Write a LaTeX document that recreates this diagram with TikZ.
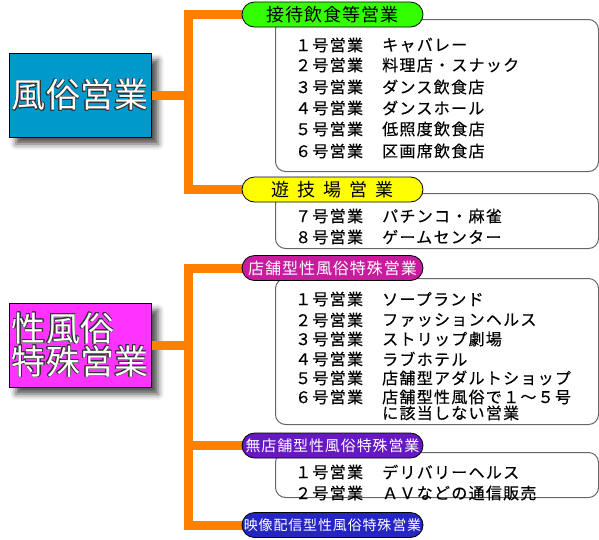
\documentclass[tikz,border=0pt]{standalone}
\usepackage{fontspec}
\setmainfont{Noto Sans CJK JP}
\newfontfamily\rowfont{Noto Sans CJK JP}[LetterSpace=8,FakeBold=0.3]
\newfontfamily\labfont{Noto Sans CJK JP}[LetterSpace=6]
\usepackage{contour}
\contourlength{0.6pt}
\usetikzlibrary{shadows.blur}

\definecolor{kaidan}{HTML}{FF8000}
\definecolor{aoi}{HTML}{0099CC}
\definecolor{momo}{HTML}{FF33FF}
\definecolor{midori}{HTML}{33FF00}
\definecolor{kiiro}{HTML}{FFFF00}
\definecolor{akamurasaki}{HTML}{C71C9E}
\definecolor{murasaki}{HTML}{6619C2}
\definecolor{kon}{HTML}{2525C0}

\begin{document}
\begin{tikzpicture}[x=1pt,y=-1pt,
    daibox/.style={draw=black,line width=1pt,minimum width=142pt,minimum height=84pt,inner sep=0pt,
        text=white,font=\fontsize{34pt}{32pt}\selectfont,
        blur shadow={shadow xshift=7pt,shadow yshift=-7pt,shadow blur radius=6pt,shadow opacity=70}},
    pill/.style={draw=black,line width=0.8pt,rounded corners=12.5pt,minimum width=181pt,minimum height=25pt,inner sep=0pt},
    naiyo/.style={draw=black!60,line width=1pt,rounded corners=10pt,fill=white,anchor=north west,inner sep=0pt},
    gou/.style={anchor=west,inner sep=0pt,font=\rowfont\fontsize{16pt}{16pt}\selectfont},
    eda/.style={line width=9pt,kaidan,line join=miter}]

    \useasboundingbox (0,0) rectangle (599,539);

    % big boxes
    \node[daibox,fill=aoi] (fuzoku) at (80,95) {\contour{black!80}{風俗営業}};
    \node[daibox,fill=momo,align=left] (seifuzoku) at (80,345) {\contour{black!80}{性風俗}\\\contour{black!80}{特殊営業}};

    % contents
    \node[naiyo,minimum width=323pt,minimum height=152pt] (box1) at (275,19) {};
    \node[naiyo,minimum width=323pt,minimum height=55pt] (box2) at (275,193) {};
    \node[naiyo,minimum width=323pt,minimum height=146pt] (box3) at (275,278) {};
    \node[naiyo,minimum width=323pt,minimum height=45pt] (box4) at (275,452) {};

    \foreach \y/\num/\kind [count=\i] in {45/１/キャバレー,65/２/料理店・スナック,87/３/ダンス飲食店,108/４/ダンスホール,129/５/低照度飲食店,151/６/区画席飲食店}{
        \node[gou] (a\i) at (295,\y) {\num 号営業};
        \node[gou] (ak\i) at (382,\y) {\kind};
    }
    \foreach \y/\num/\kind [count=\i] in {216/７/パチンコ・麻雀,237/８/ゲームセンター}{
        \node[gou] (b\i) at (295,\y) {\num 号営業};
        \node[gou] (bk\i) at (382,\y) {\kind};
    }
    \foreach \y/\num/\kind [count=\i] in {299/１/ソープランド,320/２/ファッションヘルス,339/３/ストリップ劇場,359/４/ラブホテル,378/５/店舗型アダルトショップ}{
        \node[gou] (c\i) at (295,\y) {\num 号営業};
        \node[gou] (ck\i) at (382,\y) {\kind};
    }
    \node[gou] (c6) at (295,397) {６号営業};
    \node[gou,anchor=base west,align=left] (ck6) at (382,419) {店舗型性風俗で１～５号\\に該当しない営業};
    \foreach \y/\num/\kind [count=\i] in {472/１/デリバリーヘルス,493/２/ＡＶなどの通信販売}{
        \node[gou] (d\i) at (295,\y) {\num 号営業};
        \node[gou] (dk\i) at (382,\y) {\kind};
    }

    % orange branches
    \coordinate (hub1) at (188,95);
    \coordinate (hub2) at (188,345);
    \draw[eda] (fuzoku.east) -- (hub1);
    \draw[eda] (seifuzoku.east) -- (hub2);
    \draw[eda] (332,14.5) -| (hub1) |- (332,189.5);
    \draw[eda] (332,268) -| (hub2) |- (332,525);
    \draw[eda] (hub2) |- (332,445.5);

    % labels
    \node[pill,fill=midori] (lab1) at (332.5,14.5) {\labfont\fontsize{18pt}{18pt}\selectfont 接待飲食等営業};
    \node[pill,fill=kiiro] (lab2) at (332.5,189.5) {\labfont\fontsize{18pt}{18pt}\selectfont 遊\hspace{.45em}技\hspace{.45em}場\hspace{.45em}営\hspace{.45em}業};
    \node[pill,fill=akamurasaki,text=white] (lab3) at (332.5,268) {\labfont\fontsize{16pt}{16pt}\selectfont 店舗型性風俗特殊営業};
    \node[pill,fill=murasaki,text=white] (lab4) at (332.5,445.5) {\labfont\fontsize{15pt}{15pt}\selectfont 無店舗型性風俗特殊営業};
    \node[pill,fill=kon,text=white] (lab5) at (332.5,525) {\labfont\fontsize{14pt}{14pt}\selectfont 映像配信型性風俗特殊営業};
\end{tikzpicture}
\end{document}
